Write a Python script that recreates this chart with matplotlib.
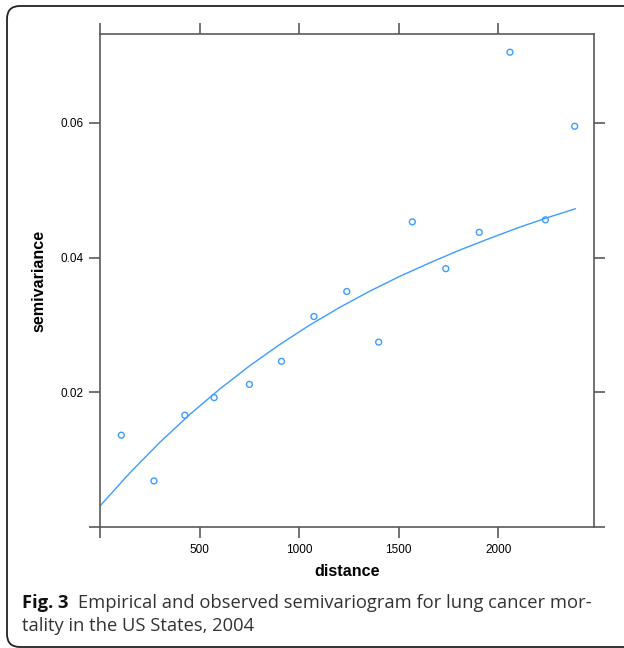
import numpy as np
import matplotlib
matplotlib.use("Agg")
import matplotlib.pyplot as plt
import matplotlib.patches as mpatches

# empirical semivariogram (binned distance, semivariance)
dist = [107, 271, 426, 573, 750, 911, 1074, 1239, 1399, 1568, 1736, 1904, 2058, 2236, 2383]
gamma = [0.01363, 0.00684, 0.01660, 0.01921, 0.02118, 0.02460, 0.03125, 0.03497, 0.02745,
         0.04531, 0.03836, 0.04375, 0.07050, 0.04561, 0.05950]

# fitted model curve, sampled along distance
fit_dist = [0, 150, 300, 450, 600, 750, 900, 1050, 1200, 1350, 1500, 1650, 1800, 1950, 2100, 2250, 2386]
fit_gamma = [0.00312, 0.00804, 0.01256, 0.01669, 0.02046, 0.02390, 0.02705, 0.02993, 0.03255,
             0.03495, 0.03715, 0.03915, 0.04105, 0.04278, 0.04445, 0.04597, 0.04725]

xticks = [0, 500, 1000, 1500, 2000]
xticklabels = ["", "500", "1000", "1500", "2000"]
yticks = [0, 0.02, 0.04, 0.06]
yticklabels = ["", "0.02", "0.04", "0.06"]

W, H = 624, 648
col = "#3d9cff"
axcol = "#5a5a5a"

fig = plt.figure(figsize=(W / 100, H / 100), dpi=100)
ax = fig.add_axes([100 / W, 1 - 527 / H, 494 / W, 493 / H])

ax.plot(fit_dist, fit_gamma, color=col, lw=1.0)
ax.scatter(dist, gamma, s=18, facecolors="none", edgecolors=col, linewidths=1.0, zorder=3)

ax.set_xlim(0, 2480)
ax.set_ylim(0, 0.0732)
ax.set_xticks(xticks)
ax.set_xticklabels(xticklabels)
ax.set_yticks(yticks)
ax.set_yticklabels(yticklabels)
ax.tick_params(direction="out", length=8, width=1.2, color=axcol, top=True, right=True,
               labeltop=False, labelright=False, labelsize=8.5, pad=4)
for lab in ax.get_xticklabels() + ax.get_yticklabels():
    lab.set_family("Liberation Sans")
for sp in ax.spines.values():
    sp.set_color(axcol)
    sp.set_linewidth(1.2)

ax.set_xlabel("distance", family="Liberation Sans", fontweight="bold", fontsize=11.6, labelpad=6)
ax.set_ylabel("semivariance", family="Liberation Sans", fontweight="bold", fontsize=11.6, labelpad=10)

# rounded frame around the figure
frame = mpatches.FancyBboxPatch((7, 1), 700, 641, boxstyle="round,pad=0,rounding_size=13",
                                transform=None, fill=False, ec="#222222", lw=1.3)
fig.patches.append(frame)

# caption
cap_font = "Open Sans"
cap_size = 13.2
r = fig.canvas.get_renderer()
t1 = fig.text(22 / W, 1 - 603 / H, "Fig. 3", family=cap_font, fontweight="bold",
              fontsize=cap_size, va="center", color="#111111")
bb = t1.get_window_extent(renderer=r)
fig.text((bb.x1 + 9) / W, 1 - 603 / H, "Empirical and observed semivariogram for lung cancer mor-",
         family=cap_font, fontsize=cap_size, va="center", color="#333333")
fig.text(22 / W, 1 - 626 / H, "tality in the US States, 2004",
         family=cap_font, fontsize=cap_size, va="center", color="#333333")

fig.savefig("out.png", dpi=100)
